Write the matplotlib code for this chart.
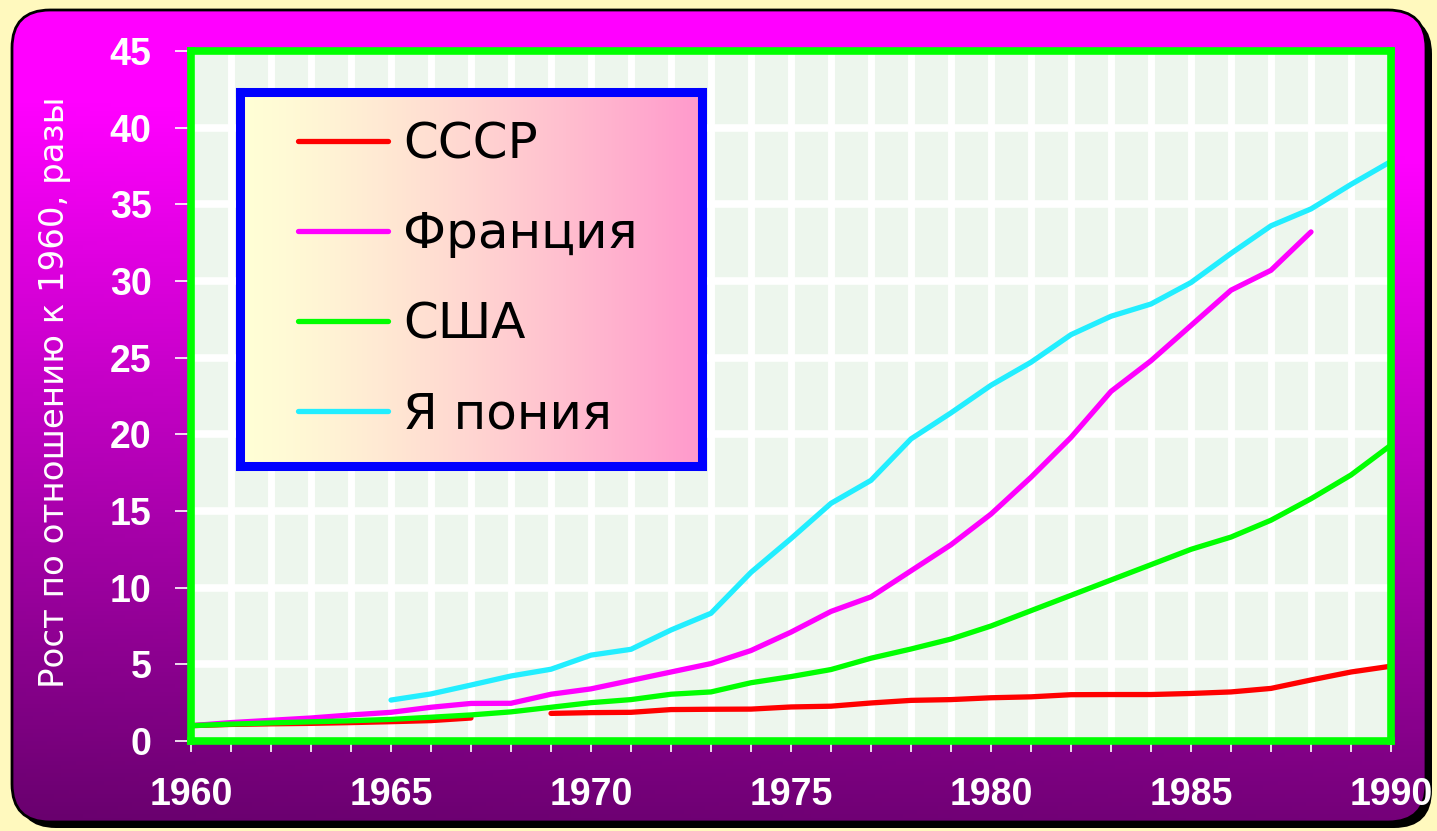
import numpy as np
import matplotlib
matplotlib.use('Agg')
import matplotlib.pyplot as plt
from matplotlib.patches import FancyBboxPatch
from matplotlib.ticker import MultipleLocator

plt.rcParams['font.family'] = ['Liberation Sans', 'DejaVu Sans']

# data (growth relative to 1960, times)
years = np.arange(1960, 1991)
nan = np.nan
ussr = [1.0, 1.08, 1.12, 1.15, 1.2, 1.26, 1.33, 1.5, nan, 1.8,
        1.85, 1.87, 2.05, 2.07, 2.08, 2.22, 2.27, 2.48, 2.65, 2.7,
        2.82, 2.88, 3.02, 3.03, 3.03, 3.1, 3.2, 3.43, 3.98, 4.5, 4.88]
france = [1.0, 1.2, 1.35, 1.5, 1.7, 1.87, 2.2, 2.45, 2.46, 3.05,
          3.4, 3.95, 4.5, 5.05, 5.9, 7.1, 8.45, 9.4, 11.1, 12.8,
          14.8, 17.2, 19.8, 22.8, 24.8, 27.1, 29.4, 30.7, 33.2, nan, nan]
usa = [1.0, 1.1, 1.18, 1.25, 1.32, 1.41, 1.55, 1.7, 1.9, 2.2,
       2.5, 2.7, 3.05, 3.2, 3.8, 4.2, 4.66, 5.4, 6.0, 6.65,
       7.5, 8.5, 9.5, 10.5, 11.5, 12.5, 13.3, 14.4, 15.8, 17.35, 19.3]
japan = [nan, nan, nan, nan, nan, 2.67, 3.07, 3.65, 4.24, 4.68,
         5.6, 5.98, 7.24, 8.33, 11.0, 13.2, 15.5, 17.0, 19.7, 21.4,
         23.2, 24.7, 26.5, 27.7, 28.5, 29.9, 31.8, 33.6, 34.7, 36.3, 37.8]

labels = ['СССР', 'Франция', 'США', 'Я пония']
colors = ['#FF0000', '#FF00FF', '#00FF00', '#22EEFF']
series = [ussr, france, usa, japan]

W, H = 1437, 831
fig = plt.figure(figsize=(W / 100, H / 100), dpi=100)
fig.patch.set_facecolor('#FFF9BE')

# rounded purple frame with gradient
bg = fig.add_axes([0, 0, 1, 1], zorder=-1)
bg.set_xlim(0, W)
bg.set_ylim(H, 0)
bg.axis('off')
shadow = FancyBboxPatch((18, 16), 1414, 812, boxstyle='round,pad=0,rounding_size=38',
                        fc='black', ec='none')
bg.add_patch(shadow)
frame = FancyBboxPatch((12, 10), 1414, 812, boxstyle='round,pad=0,rounding_size=38',
                       fc='none', ec='black', lw=2)
bg.add_patch(frame)
yy, xx = np.mgrid[0:1:200j, 0:1:200j]
t = np.clip((yy * 812 - 90) / 720, 0, 1) - 0.08 * xx
t = np.clip(t, 0, 1)
grad = np.zeros((200, 200, 3))
grad[..., 0] = (255 - 150 * t) / 255
grad[..., 2] = (255 - 145 * t) / 255
im = bg.imshow(grad, extent=(12, 1426, 822, 10), aspect='auto', zorder=1)
im.set_clip_path(frame)
frame.set_zorder(2)

# main plot
ax = fig.add_axes([191 / W, 1 - 741 / H, 1200 / W, 690 / H])
ax.set_facecolor('#EDF6ED')
for vals, lab, c in zip(series, labels, colors):
    ax.plot(years, vals, color=c, lw=3.8, label=lab, solid_capstyle='round', zorder=3)

ax.set_xlim(1960, 1990)
ax.set_ylim(0, 45)
ax.xaxis.set_major_locator(MultipleLocator(5))
ax.xaxis.set_minor_locator(MultipleLocator(1))
ax.yaxis.set_major_locator(MultipleLocator(5))
ax.grid(True, which='both', axis='x', color='white', lw=5)
ax.grid(True, which='major', axis='y', color='white', lw=5.5)
ax.set_axisbelow(True)

for s in ax.spines.values():
    s.set_color('#00FF00')
    s.set_linewidth(5.5)
    s.set_zorder(4)

ax.tick_params(axis='both', which='both', colors='white', width=1.2,
               direction='inout', length=16, labelsize=27)
ax.tick_params(axis='y', length=23, pad=17)
ax.tick_params(axis='x', pad=18)
for lbl in ax.get_xticklabels() + ax.get_yticklabels():
    lbl.set_fontweight('bold')
    lbl.set_color('white')

fig.text(55 / W, 1 - 392 / H, 'Рост по отношению к 1960, разы', rotation=90,
         color='white', fontsize=24.5, family='DejaVu Sans', ha='center', va='center')

# legend box with horizontal gradient
lax = fig.add_axes([240 / W, 1 - 466 / H, 462 / W, 374 / H], zorder=5)
lgrad = np.zeros((2, 200, 3))
xs = np.linspace(0, 1, 200)
lgrad[..., 0] = 1.0
lgrad[..., 1] = (1.0 - 0.4 * xs ** 1.3)
lgrad[..., 2] = (0.84 - 0.04 * xs)
lax.imshow(lgrad, extent=(0, 1, 0, 1), aspect='auto')
lax.set_xlim(0, 1)
lax.set_ylim(0, 1)
lax.set_xticks([])
lax.set_yticks([])
for s in lax.spines.values():
    s.set_color('#0000FF')
    s.set_linewidth(6.5)

handles, labs = ax.get_legend_handles_labels()
lax.legend(handles, labs, loc='upper left', bbox_to_anchor=(0.125, 0.925),
           frameon=False, handlelength=1.8, handletextpad=0.3,
           labelspacing=0.84, borderpad=0, borderaxespad=0,
           prop={'family': 'DejaVu Sans', 'size': 36})

fig.savefig('out.png', dpi=100, facecolor=fig.get_facecolor())
